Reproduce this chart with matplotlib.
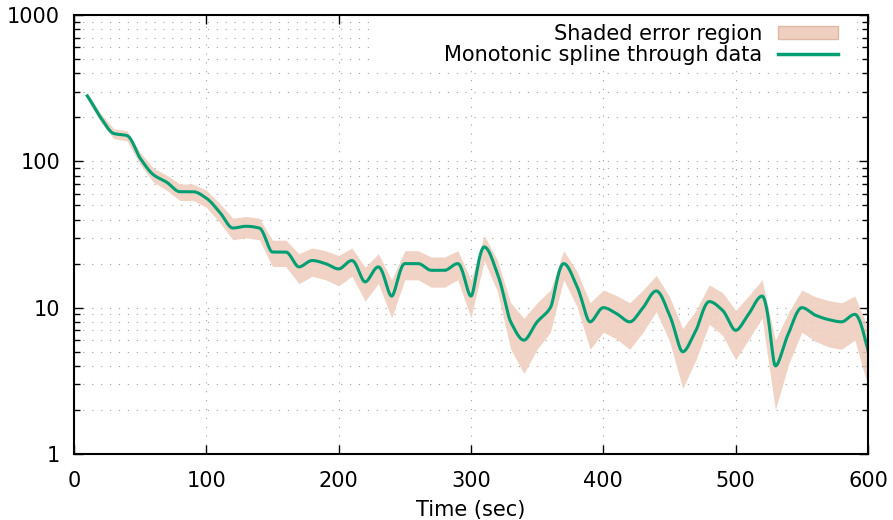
import numpy as np
import matplotlib
matplotlib.use("Agg")
import matplotlib.pyplot as plt
from matplotlib.patches import Patch, Rectangle
from matplotlib.lines import Line2D

# Data
time_s = [10, 20, 30, 40, 50, 60, 70, 80, 90, 100,
          110, 120, 130, 140, 150, 160, 170, 180, 190, 200,
          210, 220, 230, 240, 250, 260, 270, 280, 290, 300,
          310, 320, 330, 340, 350, 360, 370, 380, 390, 400,
          410, 420, 430, 440, 450, 460, 470, 480, 490, 500,
          510, 520, 530, 540, 550, 560, 570, 580, 590, 600]
values = [280, 200, 155, 150, 105, 81, 72, 62, 62, 56,
          45, 35, 36, 35, 24, 24, 19, 21, 20, 18.4,
          21, 15, 19, 12, 20, 20, 18, 18, 20, 12,
          26, 17, 8.0, 6.0, 8.0, 10, 20, 14, 8.0, 10,
          9.1, 8.0, 10, 13, 8.9, 5.0, 7.0, 11, 9.6, 7.0,
          9.1, 12, 4.0, 6.7, 10, 8.9, 8.3, 8.0, 9.0, 5.1]
errors = [16, 14, 12, 12, 10, 9, 8.5, 8, 8, 7.5,
          6.7, 5.9, 6, 5.9, 4.9, 4.9, 4.4, 4.6, 4.5, 4.3,
          4.6, 3.9, 4.4, 3.5, 4.5, 4.5, 4.2, 4.2, 4.5, 3.5,
          5.1, 4.1, 2.8, 2.45, 2.8, 3.2, 4.5, 3.8, 2.8, 3.2,
          3.0, 2.8, 3.2, 3.6, 3.0, 2.2, 2.6, 3.3, 3.1, 2.6,
          3.0, 3.5, 2.0, 2.6, 3.2, 3.0, 2.9, 2.8, 3.0, 2.2]

x_ticks = [0, 100, 200, 300, 400, 500, 600]
y_ticks = [1, 10, 100, 1000]
y_tick_labels = ["1", "10", "100", "1000"]


def monotone_spline(x, y, n=20):
    """Fritsch-Carlson monotone cubic Hermite curve through the data."""
    x = np.asarray(x, float)
    y = np.asarray(y, float)
    h = np.diff(x)
    d = np.diff(y) / h
    m = np.zeros_like(y)
    m[0], m[-1] = d[0], d[-1]
    for i in range(1, len(y) - 1):
        if d[i - 1] * d[i] <= 0:
            m[i] = 0.0
        else:
            w1 = 2 * h[i] + h[i - 1]
            w2 = h[i] + 2 * h[i - 1]
            m[i] = (w1 + w2) / (w1 / d[i - 1] + w2 / d[i])
    xs, ys = [], []
    for i in range(len(x) - 1):
        t = np.linspace(0, 1, n, endpoint=False)
        h00 = 2 * t**3 - 3 * t**2 + 1
        h10 = t**3 - 2 * t**2 + t
        h01 = -2 * t**3 + 3 * t**2
        h11 = t**3 - t**2
        xs.append(x[i] + t * h[i])
        ys.append(h00 * y[i] + h10 * h[i] * m[i] + h01 * y[i + 1] + h11 * h[i] * m[i + 1])
    xs.append([x[-1]])
    ys.append([y[-1]])
    return np.concatenate(xs), np.concatenate(ys)


plt.rcParams['font.family'] = ['DejaVu Sans']
FS = 15
fig = plt.figure(figsize=(8.93, 5.20), dpi=100)
ax = fig.add_axes([74 / 893, 1 - 454 / 520, 794 / 893, 439 / 520])

ax.set_yscale('log')
ax.set_xlim(0, 600)
ax.set_ylim(1, 1000)

v = np.array(values)
e = np.array(errors)
band_color = '#efcfbf'
ax.fill_between(time_s, v - e, v + e, color=band_color, alpha=0.9, linewidth=0, zorder=2)

sx, sy = monotone_spline(time_s, values)
ax.plot(sx, sy, color='#009e73', linewidth=2.2, zorder=3)

# ticks and grid
ax.set_xticks(x_ticks)
ax.set_xticklabels([str(t) for t in x_ticks])
ax.set_yticks(y_ticks)
ax.set_yticklabels(y_tick_labels)
ax.yaxis.set_minor_locator(matplotlib.ticker.LogLocator(base=10, subs=np.arange(2, 10)))
ax.yaxis.set_minor_formatter(matplotlib.ticker.NullFormatter())
grid_style = dict(color='#a0a0a0', linestyle=(0, (1, 7)), linewidth=0.8)
ax.grid(True, which='major', axis='both', **grid_style)
ax.grid(True, which='minor', axis='y', **grid_style)
ax.set_axisbelow(True)

ax.tick_params(which='major', direction='in', length=6.5, width=1.0, top=True, right=True,
               labelsize=FS, colors='black')
ax.tick_params(axis='x', which='major', pad=12)
ax.tick_params(axis='y', which='major', pad=10)
ax.tick_params(which='minor', direction='in', length=4.3, width=1.0, top=False, right=True)
for s in ax.spines.values():
    s.set_linewidth(1.5)
    s.set_zorder(5)

ax.set_xlabel('Time (sec)', fontsize=FS, labelpad=7)

# opaque key box (hides grid behind legend, as in the reference)
ax.add_patch(Rectangle(((375 - 74) / 794, (454 - 66) / 439), (857 - 375) / 794, 66 / 439,
                       transform=ax.transAxes, facecolor='white', edgecolor='none',
                       zorder=3.5, clip_on=False))

handles = [Patch(facecolor=band_color, edgecolor='#e0b8a5', linewidth=1),
           Line2D([0], [0], color='#009e73', linewidth=2.5)]
labels = ['Shaded error region', 'Monotonic spline through data']
leg = ax.legend(handles, labels, loc='upper right',
                bbox_to_anchor=((838 - 74) / 794, (454 - 24) / 439),
                fontsize=FS, frameon=False,
                markerfirst=False, handlelength=2.9, handleheight=0.6,
                borderaxespad=0, labelspacing=0.03, handletextpad=0.72,
                borderpad=0)
for t in leg.get_texts():
    t.set_ha('right')
leg.set_zorder(4)

fig.savefig('out.png', dpi=100)
